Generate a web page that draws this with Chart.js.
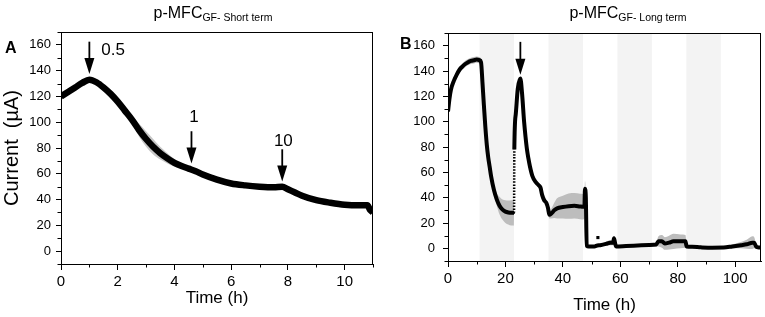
<!DOCTYPE html>
<html>
<head>
<meta charset="utf-8">
<script src="https://cdn.jsdelivr.net/npm/chart.js@4.4.1/dist/chart.umd.min.js"></script>
<style>
  body { margin: 0; background: #fff; width: 765px; height: 317px; position: relative; overflow: hidden;
         font-family: "Liberation Sans", Arial, sans-serif; color: #000; }
  .panel { position: absolute; top: 0; width: 382px; height: 317px; }
  #leftPanel { left: 0; }
  #rightPanel { left: 383px; }
  .ttl { position: absolute; top: 5px; font-size: 16px; line-height: 16px; white-space: nowrap; transform: translateX(-50%); }
  .ttl span { font-size: 10.5px; vertical-align: -3px; }
  .tag { position: absolute; font-weight: bold; font-size: 16px; line-height: 16px; }
</style>
</head>
<body>
<div class="panel" id="leftPanel"><canvas id="shortChart"></canvas></div>
<div class="panel" id="rightPanel"><canvas id="longChart"></canvas></div>
<div class="ttl" style="left:213px">p-MFC<span>GF- Short term</span></div>
<div class="ttl" style="left:628px">p-MFC<span>GF- Long term</span></div>
<div class="tag" style="left:5px;top:40px">A</div>
<div class="tag" style="left:400px;top:36px">B</div>
<script>
// ---- short term (panel A) ----
var shortTime = [0, 0.25, 0.5, 0.75, 1.0, 1.25, 1.5, 1.75, 2.0, 2.25, 2.5, 2.75, 3.0, 3.25, 3.5, 3.75, 4.0, 4.25, 4.5, 4.75, 5.0, 5.5, 6.0, 6.5, 7.0, 7.5, 7.8, 8.0, 8.25, 8.5, 9.0, 9.5, 10.0, 10.5, 10.8, 10.9, 11.0];
var shortMean = [120, 123.5, 127, 130.5, 133, 131, 127, 122, 116, 109, 102, 94, 87, 81, 76, 72, 68.5, 66, 64, 62, 59.5, 55.5, 52.5, 51, 50, 49.5, 50, 48, 45.5, 43, 39.5, 37.5, 36, 35.5, 35.5, 32, 30];
var shortErr = [1, 1, 1, 1, 1.5, 1, 1, 1, 1.5, 2, 3, 5, 6, 6, 5, 4, 3, 2, 1.5, 1, 1, 1, 1, 1, 1, 1, 1, 1, 1, 1, 1.5, 1.5, 1.5, 1.5, 1.5, 1, 1];
var shortXTicks = [0, 2, 4, 6, 8, 10];
var shortYTicks = [0, 20, 40, 60, 80, 100, 120, 140, 160];
var shortArrowTime = [1.0, 4.6, 7.8];
var shortArrowTop = [162.5, 93, 79];
var shortArrowTip = [137.5, 68, 54];
var shortArrowText = ['0.5', '1', '10'];
var shortTextTime = [1.84, 4.69, 7.84];
var shortTextValue = [156, 103.5, 85];

// ---- long term (panel B) ----
var longTime = [0, 0.5, 1, 2, 3, 4, 5, 6, 7, 8, 9, 10, 11, 11.5, 12, 12.5, 13, 13.5, 14, 14.5, 15, 16, 17, 18, 19, 20, 21, 22, 23,
  23.1, 23.6, 24.3, 25.2, 25.8, 26.5, 27, 27.5, 28, 28.5, 29.4, 30.5, 31.5, 32.2, 32.8, 33.5, 34.2, 34.8, 35.3, 36, 37, 38, 40, 42, 44, 46, 47, 47.5, 47.7, 48.0, 48.3,
  49, 51, 52, 53, 55, 56.5, 57.5, 57.8, 58.2, 58.5, 62, 66, 70, 72.5, 73.3, 74.5, 75.5, 77, 78.5, 81, 82.7, 83.1,
  85, 88, 92, 96, 99, 102, 104, 106, 106.6, 107.3, 108, 109];
var longMean = [108, 118, 125, 132, 137, 141, 143.5, 145.5, 147, 148, 148.5, 149, 148.5, 147, 131, 113, 96, 82, 72, 64.5, 57, 46, 38.5, 33.5, 30.5, 29, 28.3, 28, 28,
  78, 106, 126, 134, 122, 100, 88, 78, 71, 65, 57, 52.5, 50, 48, 42, 38, 36, 32, 26.5, 27.5, 30, 31.5, 32.6, 33.3, 33.6, 33, 32.8, 33, 47, 40, 2,
  1.5, 1.5, 2.2, 2.5, 3.5, 4.5, 4.5, 8, 4, 1.5, 1.8, 2.2, 2.6, 3, 5.5, 5.5, 3.8, 4.5, 5.5, 5.5, 5.5, 1.5,
  1.2, 0.8, 0.5, 0.6, 1.5, 2.5, 3.2, 4.5, 4.5, 1.5, 0.8, 0.5];
var longErr = [2.5, 2.5, 2.5, 2.5, 2.5, 2.5, 2.5, 2.5, 2.5, 2.5, 2.5, 2.5, 2.5, 2, 2, 2, 2, 2, 2, 2.5, 3, 4, 5, 7, 8, 9, 9.5, 10, 10,
  1, 1, 1, 1, 1, 1, 1, 1, 1, 1, 1, 1.5, 1.5, 1.5, 1.5, 1.5, 2, 2, 3, 4, 6, 8, 9, 10, 10, 10, 10, 9, 6, 3, 1,
  1, 1, 1, 1, 1.5, 2, 2, 2, 1.5, 1, 1, 1, 1, 1.5, 4, 5, 5, 5.5, 6, 5.5, 5, 1,
  1, 1, 1, 1, 1.5, 2.5, 3.5, 5, 4.5, 2, 1, 1];
var longDotTime = [52.2];
var longDotValue = [8.5];
var longXTicks = [0, 20, 40, 60, 80, 100];
var longYTicks = [0, 20, 40, 60, 80, 100, 120, 140, 160];
var nightStart = [11, 35, 59, 83];
var nightEnd = [23, 47, 71, 95];
var longArrowTime = [25.2];
var longArrowTop = [163];
var longArrowTip = [137];

Chart.defaults.font.family = "'Liberation Sans', Arial, sans-serif";
Chart.defaults.color = '#000';
Chart.defaults.animation = false;

function pts(xs, ys) {
  return xs.map(function (x, i) { return { x: x, y: ys[i] }; });
}

var extras = {
  id: 'extras',
  beforeDatasetsDraw: function (chart, args, o) {
    if (!o.bandStart) return;
    var ctx = chart.ctx, a = chart.chartArea, x = chart.scales.x;
    ctx.save();
    ctx.fillStyle = '#f3f3f3';
    o.bandStart.forEach(function (s, i) {
      var x0 = x.getPixelForValue(s), x1 = x.getPixelForValue(o.bandEnd[i]);
      ctx.fillRect(x0, a.top, x1 - x0, a.bottom - a.top);
    });
    ctx.restore();
  },
  afterDraw: function (chart, args, o) {
    var ctx = chart.ctx, a = chart.chartArea, x = chart.scales.x, y = chart.scales.y;
    ctx.save();
    // frame
    ctx.strokeStyle = '#000';
    ctx.lineWidth = 1;
    ctx.strokeRect(a.left + 0.5, a.top + 0.5, a.right - a.left - 1, a.bottom - a.top);
    // minor ticks
    ctx.beginPath();
    for (var v = x.min; v <= x.max; v += o.minorX) {
      if (o.xTicks.indexOf(v) >= 0) continue;
      var px = Math.round(x.getPixelForValue(v)) + 0.5;
      ctx.moveTo(px, a.bottom); ctx.lineTo(px, a.bottom + 3.5);
    }
    for (var w = y.min; w <= y.max; w += o.minorY) {
      if (o.yTicks.indexOf(w) >= 0) continue;
      var py = Math.round(y.getPixelForValue(w)) + 0.5;
      ctx.moveTo(a.left, py); ctx.lineTo(a.left - 3.5, py);
    }
    ctx.stroke();
    // arrows
    ctx.fillStyle = '#000';
    ctx.lineWidth = 1.8;
    o.arrowTime.forEach(function (t, i) {
      var ax = x.getPixelForValue(t);
      var top = y.getPixelForValue(o.arrowTop[i]);
      var tip = y.getPixelForValue(o.arrowTip[i]);
      ctx.beginPath();
      ctx.moveTo(ax, top); ctx.lineTo(ax, tip - 14);
      ctx.stroke();
      ctx.beginPath();
      ctx.moveTo(ax - 5, tip - 16); ctx.lineTo(ax + 5, tip - 16); ctx.lineTo(ax, tip);
      ctx.closePath();
      ctx.fill();
    });
    if (o.text) {
      ctx.font = "17px 'Liberation Sans', Arial, sans-serif";
      ctx.textAlign = 'center';
      ctx.textBaseline = 'middle';
      o.text.forEach(function (s, i) {
        ctx.fillText(s, x.getPixelForValue(o.textTime[i]), y.getPixelForValue(o.textValue[i]));
      });
    }
    ctx.restore();
  }
};

function makeChart(id, cfg) {
  var mean = pts(cfg.time, cfg.mean);
  var upper = pts(cfg.time, cfg.mean.map(function (m, i) { return m + cfg.err[i]; }));
  var lower = pts(cfg.time, cfg.mean.map(function (m, i) { return m - cfg.err[i]; }));
  var datasets = [
    {
      data: mean, borderColor: '#000', borderWidth: cfg.lineWidth, pointRadius: 0,
      cubicInterpolationMode: 'monotone', fill: false,
      segment: {
        borderDash: function (c) { return cfg.dashFrom !== undefined && c.p0.parsed.x === cfg.dashFrom ? [1.5, 1.5] : undefined; },
        borderWidth: function (c) { return cfg.dashFrom !== undefined && c.p0.parsed.x === cfg.dashFrom ? 2.5 : undefined; }
      }
    },
    { data: upper, borderWidth: 0, pointRadius: 0, cubicInterpolationMode: 'monotone', fill: '+1', backgroundColor: cfg.bandColor },
    { data: lower, borderWidth: 0, pointRadius: 0, cubicInterpolationMode: 'monotone', fill: false }
  ];
  if (cfg.dotTime) {
    datasets.unshift({ type: 'scatter', data: pts(cfg.dotTime, cfg.dotValue), pointStyle: 'rect', pointRadius: 2.2,
      backgroundColor: '#000', borderColor: '#000', borderWidth: 0 });
  }
  return new Chart(document.getElementById(id), {
    type: 'line',
    data: { datasets: datasets },
    plugins: [extras],
    options: {
      responsive: true,
      maintainAspectRatio: false,
      events: [],
      layout: { padding: cfg.padding },
      plugins: {
        legend: { display: false },
        tooltip: { enabled: false },
        extras: {
          bandStart: cfg.bandStart, bandEnd: cfg.bandEnd,
          minorX: cfg.minorX, minorY: 10, xTicks: cfg.xTicks, yTicks: cfg.yTicks,
          arrowTime: cfg.arrowTime, arrowTop: cfg.arrowTop, arrowTip: cfg.arrowTip,
          text: cfg.text, textTime: cfg.textTime, textValue: cfg.textValue
        }
      },
      scales: {
        x: {
          type: 'linear', min: 0, max: cfg.xMax,
          afterBuildTicks: function (s) { s.ticks = cfg.xTicks.map(function (v) { return { value: v }; }); },
          afterFit: function (s) { s.height = cfg.xHeight; },
          border: { display: true, color: '#000', width: 1 },
          grid: { drawOnChartArea: false, drawTicks: true, tickLength: 6, color: '#000' },
          ticks: { font: { size: 15 }, padding: 3, maxRotation: 0 },
          title: { display: true, text: 'Time (h)', font: { size: 17 }, padding: { top: 0, bottom: cfg.titlePad } }
        },
        y: {
          min: -10, max: 170,
          afterBuildTicks: function (s) { s.ticks = cfg.yTicks.map(function (v) { return { value: v }; }); },
          afterFit: function (s) { s.width = cfg.yWidth; },
          border: { display: true, color: '#000', width: 1 },
          grid: { drawOnChartArea: false, drawTicks: true, tickLength: 5, color: '#000' },
          ticks: { font: { size: 13 }, padding: cfg.yPad },
          title: { display: cfg.yTitle, text: 'Current  (µA)', font: { size: 20 }, padding: 0 }
        }
      }
    }
  });
}

makeChart('shortChart', {
  time: shortTime, mean: shortMean, err: shortErr, lineWidth: 6.5, bandColor: '#c6c6c6',
  xMax: 11, xTicks: shortXTicks, yTicks: shortYTicks, minorX: 1,
  padding: { left: 0, right: 9, top: 32, bottom: 0 }, xHeight: 53, yWidth: 61, yPad: 5, yTitle: true, titlePad: 8,
  arrowTime: shortArrowTime, arrowTop: shortArrowTop, arrowTip: shortArrowTip,
  text: shortArrowText, textTime: shortTextTime, textValue: shortTextValue
});

makeChart('longChart', {
  time: longTime, mean: longMean, err: longErr, lineWidth: 4, dashFrom: 23, bandColor: '#bdbdbd',
  dotTime: longDotTime, dotValue: longDotValue,
  xMax: 109, xTicks: longXTicks, yTicks: longYTicks, minorX: 10,
  padding: { left: 0, right: 3, top: 33, bottom: 0 }, xHeight: 56, yWidth: 65, yPad: 8, yTitle: false, titlePad: 1,
  bandStart: nightStart, bandEnd: nightEnd,
  arrowTime: longArrowTime, arrowTop: longArrowTop, arrowTip: longArrowTip
});
</script>
</body>
</html>
